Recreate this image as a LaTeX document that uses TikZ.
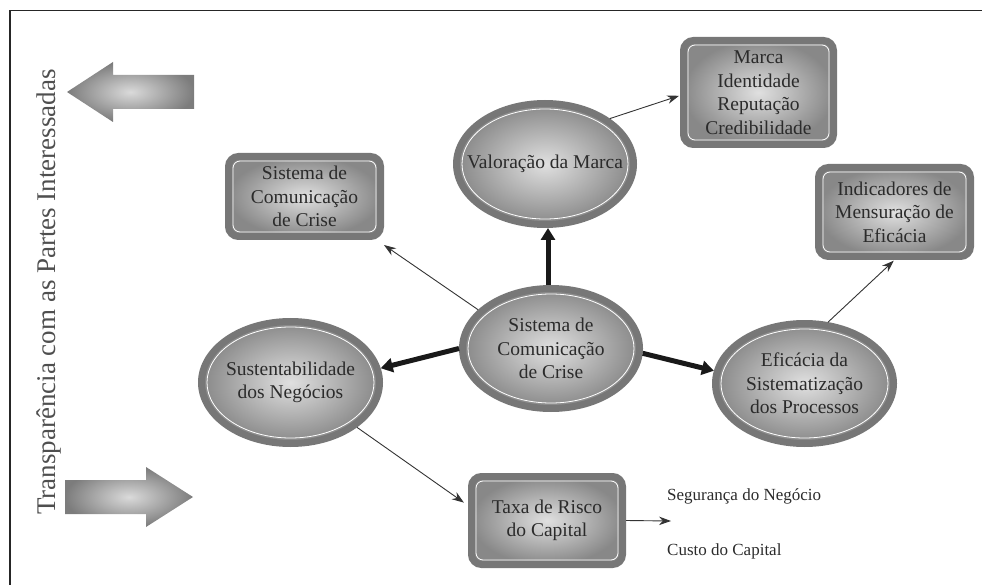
\documentclass[tikz,border=0pt]{standalone}
\usepackage{fontspec}
\setmainfont{Liberation Serif}
\usetikzlibrary{shapes.geometric,arrows.meta}
\definecolor{ringgray}{HTML}{777777}
\definecolor{shlight}{HTML}{E0E0E0}
\definecolor{shdark}{HTML}{888888}
\definecolor{arrlight}{HTML}{DADADA}
\definecolor{arrdark}{HTML}{7C7C7C}
\definecolor{txt}{HTML}{2B2B2B}
\definecolor{vtxt}{HTML}{4F4F4F}
\definecolor{lnk}{HTML}{333333}
\newcommand\myboxfont{\fontsize{19.5}{23.5}\selectfont}
\tikzset{
  ring/.style={draw=ringgray, line width=7pt, outer sep=3.5pt, inner color=shlight, outer color=shdark, inner sep=0pt},
  ringtext/.style={text=txt, font=\myboxfont, align=center, inner sep=0pt},
  ellnode/.style={ring, ellipse},
  boxnode/.style={ring, rectangle, rounded corners=10pt},
  innerline/.style={draw=white, line width=0.8pt},
  linkarrow/.style={draw=lnk, line width=0.9pt, -{Stealth[length=12pt,width=8.5pt]}},
  bigarrow/.style={draw=black!90, line width=5pt, -{Triangle[length=12pt,width=14pt]}},
  lbl/.style={text=txt, font=\fontsize{17}{21}\selectfont, inner sep=0pt},
  blockarrow/.style={inner color=arrlight, outer color=arrdark}
}
\newcommand\myell[6]{%
  \node[ellnode, minimum width=#4pt, minimum height=#5pt] (#1) at (#2,#3) {};
  \draw[innerline] (#1.center) ellipse [x radius=#4pt/2-5.5pt, y radius=#5pt/2-5.5pt];
  \node[ringtext] (#1t) at (#1.center) {#6};}
\newcommand\mybox[6]{%
  \node[boxnode, minimum width=#4pt, minimum height=#5pt] (#1) at (#2,#3) {};
  \draw[innerline, rounded corners=7pt] ([xshift=8pt,yshift=-8pt]#1.north west) rectangle ([xshift=-8pt,yshift=8pt]#1.south east);
  \node[ringtext] (#1t) at (#1.center) {#6};}
\begin{document}
\begin{tikzpicture}[x=1pt,y=-1pt]
\useasboundingbox (0,0) rectangle (982,585);
% frame
\draw[line width=1.2pt, black!85] (10,585) -- (10,10.5) -- (982,10.5);
% vertical text
\node[rotate=90, anchor=base, text=vtxt, font=\fontsize{27}{30}\selectfont, inner sep=0pt] (vt) at (55,292) {Transparência com as Partes Interessadas};
% block arrows
\shade[blockarrow] (67,92) -- (113,62) -- (113,75) -- (194,75) -- (194,109) -- (113,109) -- (113,122) -- cycle;
\shade[blockarrow] (193,497) -- (146,467) -- (146,480) -- (65,480) -- (65,514) -- (146,514) -- (146,527) -- cycle;
% ellipses
\myell{val}{545}{164}{177}{121}{Valoração da Marca}
\myell{cen}{551}{348.5}{177}{120}{Sistema de\\Comunicação\\de Crise}
\myell{sus}{290.5}{382.5}{178}{122}{Sustentabilidade\\dos Negócios}
\myell{efi}{804.5}{383.5}{178}{120}{Eficácia da\\Sistematização\\dos Processos}
% boxes
\mybox{mar}{758.5}{92.5}{150}{104}{Marca\\Identidade\\Reputação\\Credibilidade}
\mybox{sis}{304.5}{196.5}{152}{80}{Sistema de\\Comunicação\\de Crise}
\mybox{ind}{894.5}{212}{152}{89}{Indicadores de\\Mensuração de\\Eficácia}
\mybox{tax}{547}{520.5}{151}{88}{Taxa de Risco\\do Capital}
% labels
\node[lbl, anchor=base west] (seg) at (667,500) {Segurança do Negócio};
\node[lbl, anchor=base west] (cus) at (667,555) {Custo do Capital};
% connectors
\draw[linkarrow, shorten >=1pt] (val.35) -- ([yshift=-3pt]mar.west);
\draw[linkarrow] (cen.152) -- ([yshift=-5pt]sis.south east);
\coordinate (cup) at ([xshift=-3pt]cen.north);
\draw[bigarrow] (cup) -- (cup |- val.south);
\draw[bigarrow] (cen.west) -- (sus.9);
\draw[bigarrow] (cen.-3) -- (efi.172);
\draw[linkarrow, shorten >=1pt] (efi.69) -- (ind.south);
\draw[linkarrow, shorten >=5pt] (sus.-34) -- ([yshift=15pt]tax.west);
\coordinate (tend) at (671,521);
\draw[linkarrow] (tax.east) -- (tend);
\end{tikzpicture}
\end{document}
